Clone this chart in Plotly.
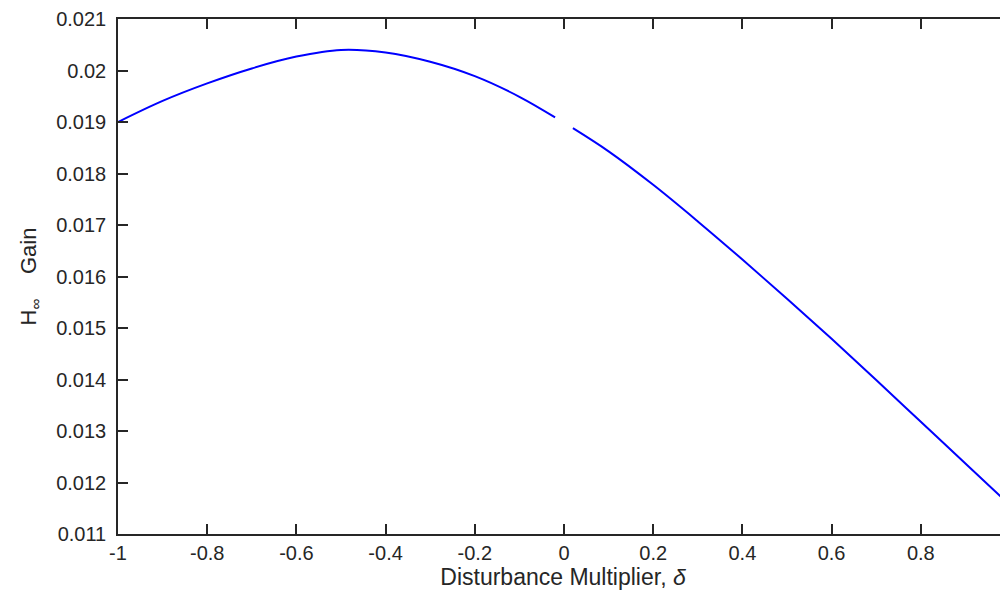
import plotly.graph_objects as go

# Segment before the gap (delta < 0)
delta_neg = [-1.0, -0.9, -0.8, -0.7, -0.6, -0.5, -0.4, -0.3, -0.2, -0.1, -0.02]
gain_neg = [0.01900, 0.01941, 0.01975, 0.02004, 0.02027, 0.02040, 0.02035,
            0.02017, 0.01989, 0.01949, 0.01909]

# Segment after the gap (delta > 0)
delta_pos = [0.02, 0.1, 0.2, 0.3, 0.4, 0.5, 0.6, 0.7, 0.8, 0.9, 0.98]
gain_pos = [0.01888, 0.01843, 0.01778, 0.01707, 0.01633, 0.01557, 0.01479,
            0.01399, 0.01318, 0.01237, 0.01172]

x_ticks = [-1, -0.8, -0.6, -0.4, -0.2, 0, 0.2, 0.4, 0.6, 0.8, 1]
x_ticktext = ["-1", "-0.8", "-0.6", "-0.4", "-0.2", "0", "0.2", "0.4", "0.6", "0.8", "1"]
y_ticks = [0.011, 0.012, 0.013, 0.014, 0.015, 0.016, 0.017, 0.018, 0.019, 0.020, 0.021]
y_ticktext = ["0.011", "0.012", "0.013", "0.014", "0.015", "0.016", "0.017",
              "0.018", "0.019", "0.02", "0.021"]

AX = "#262626"
FONT = "Liberation Sans, Arial, sans-serif"
FS = 20
FS_XLABEL = 23
FS_YLABEL = 22

fig = go.Figure()
for xs, ys in [(delta_neg, gain_neg), (delta_pos, gain_pos)]:
    fig.add_trace(go.Scatter(x=xs, y=ys, mode="lines",
                             line=dict(color="#0000FF", width=2, shape="spline", smoothing=1.0),
                             showlegend=False, hoverinfo="skip"))

# page body has a small margin; figure occupies the rest of the 1008x592 window
W, H = 1000, 584
L, R, T, B = 110, 0, 11, 58
plot_w = W - L - R
# x=1 sits ~2px past the right window edge in the reference
x_max = -1 + 2 * plot_w / 892.0

tick_common = dict(ticks="inside", ticklen=10, tickwidth=1.5, tickcolor=AX,
                   showgrid=False, zeroline=False)

fig.update_layout(
    width=W, height=H,
    margin=dict(l=L, r=R, t=T, b=B),
    paper_bgcolor="white", plot_bgcolor="white",
    font=dict(family=FONT, size=FS, color=AX),
    xaxis=dict(range=[-1, x_max], tickvals=x_ticks, ticktext=x_ticktext,
               showline=True, linecolor=AX, linewidth=1.5, mirror="ticks",
               ticklabeloverflow="allow",
               tickfont=dict(family=FONT, size=FS, color=AX),
               title=dict(text="Disturbance Multiplier, <i>δ</i>", standoff=4,
                          font=dict(family=FONT, size=FS_XLABEL, color=AX)),
               **tick_common),
    yaxis=dict(range=[0.011, 0.021], tickvals=y_ticks, ticktext=y_ticktext,
               showline=True, linecolor=AX, linewidth=1.5, mirror=False,
               ticklabelstandoff=6, ticklabeloverflow="allow",
               tickfont=dict(family=FONT, size=FS, color=AX),
               title=dict(text="H<sub>∞</sub>\u00a0\u00a0\u00a0\u00a0Gain", standoff=13,
                          font=dict(family=FONT, size=FS_YLABEL, color=AX)),
               **tick_common),
    yaxis2=dict(range=[0.011, 0.021], tickvals=y_ticks, overlaying="y", side="right",
                showline=False, showticklabels=False, **tick_common),
    annotations=[dict(text="1", xref="paper", yref="paper",
                      x=2 / (x_max + 1), y=0, yanchor="top",
                      xanchor="center", showarrow=False, yshift=-4,
                      font=dict(family=FONT, size=FS, color=AX))],
)

fig.write_html("out.html")
